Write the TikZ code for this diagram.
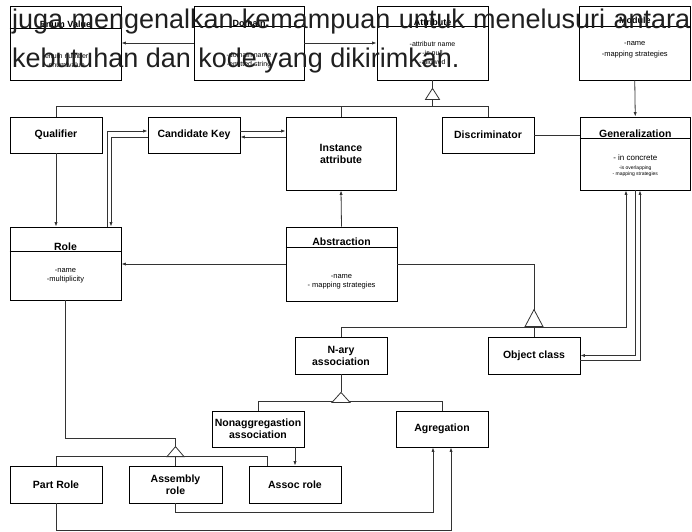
\documentclass[tikz,border=0pt]{standalone}
\usepackage{fontspec}
\setmainfont{Liberation Sans}
\usetikzlibrary{calc,arrows.meta}
\begin{document}
\begin{tikzpicture}[x=1pt,y=-1pt,
  cls/.style={draw=black, line width=0.8pt, fill=white, inner sep=0pt, align=center,
              font=\bfseries\fontsize{10.5}{12}\selectfont},
  ttl/.style={inner sep=0pt, font=\bfseries\fontsize{10.5}{12}\selectfont},
  sttl/.style={inner sep=0pt, font=\bfseries\fontsize{9}{10}\selectfont},
  attrtxt/.style={inner sep=0pt, align=center, font=\fontsize{7}{9}\selectfont},
  tinytxt/.style={inner sep=0pt, align=center, font=\fontsize{5}{6}\selectfont},
  hline/.style={draw=black, line width=0.8pt},
  con/.style={draw=black!80, line width=0.8pt},
  arr/.style={con, -{Latex[length=4.5pt,width=3.2pt]}},
  gentri/.style={draw=black!80, line width=0.8pt, fill=white},
  big/.style={inner sep=0pt, anchor=base west, text=black!88, font=\fontsize{27}{30}\selectfont}
]
\useasboundingbox (0,0) rectangle (692,531);

% ---------- boxes ----------
\node[cls, minimum width=111pt, minimum height=74pt] (enum)   at (65.5,43) {};
\node[cls, minimum width=110pt, minimum height=74pt] (domain) at (249,43) {};
\node[cls, minimum width=111pt, minimum height=74pt] (attr)   at (432.5,43) {};
\node[cls, minimum width=111pt, minimum height=74pt] (module) at (634.75,43) {};

\node[cls, minimum width=92pt, minimum height=36pt] (qual) at (56,135) {Qualifier};
\node[cls, minimum width=92pt, minimum height=36pt] (ck)   at (194,135) {Candidate Key};
\node[cls, minimum width=110pt, minimum height=73pt] (inst) at (341,153.5) {Instance\\attribute};
\node[cls, minimum width=92pt, minimum height=36pt] (disc) at (488,135) {Discriminator};
\node[cls, minimum width=110.5pt, minimum height=73pt] (gen) at (635.25,153.5) {};

\node[cls, minimum width=111pt, minimum height=73pt] (role) at (65.5,263.5) {};
\node[cls, minimum width=111pt, minimum height=74pt] (abs)  at (341.5,264) {};

\node[cls, minimum width=92pt, minimum height=37pt] (nary) at (341,355.5) {N-ary\\association};
\node[cls, minimum width=92pt, minimum height=37pt] (oc)   at (534,355.5) {Object class};

\node[cls, minimum width=92pt, minimum height=36pt] (nonagg) at (258,429) {Nonaggregastion\\association};
\node[cls, minimum width=92pt, minimum height=36pt] (agr)    at (442,429) {Agregation};

\node[cls, minimum width=92pt, minimum height=37pt] (part)  at (56,484.5) {Part Role};
\node[cls, minimum width=93pt, minimum height=37pt] (asm)   at (175.5,484.5) {Assembly\\role};
\node[cls, minimum width=92pt, minimum height=37pt] (assoc) at (295,484.5) {Assoc role};

% ---------- class compartments ----------
\draw[hline] ($(enum.north west)+(0,23)$) -- ($(enum.north east)+(0,23)$);
\node[sttl] (enumT) at (65.5,24) {Enum Value};
\node[attrtxt] (enumA) at (65.5,60) {-enum number\\-enum value};

\draw[hline] ($(domain.north west)+(0,21)$) -- ($(domain.north east)+(0,21)$);
\node[sttl] (domainT) at (249,23) {Domain};
\node[attrtxt] (domainA) at (249,60) {-domain name\\-emitted string};

\draw[hline] ($(attr.north west)+(0,21)$) -- ($(attr.north east)+(0,21)$);
\node[sttl] (attrT) at (432.5,22) {Attribute};
\node[attrtxt] (attrA) at (432.5,53) {-attributr name\\-is null\\-allowed};

\draw[hline] ($(module.north west)+(0,21)$) -- ($(module.north east)+(0,21)$);
\node[sttl] (moduleT) at (634.75,20) {Module};
\node[attrtxt, font=\fontsize{7.5}{11}\selectfont] (moduleA) at (634.75,49.5) {-name\\-mapping strategies};

\draw[hline] ($(gen.north west)+(0,22)$) -- ($(gen.north east)+(0,22)$);
\node[ttl] (genT) at (635.25,134) {Generalization};
\node[attrtxt, font=\fontsize{8}{9}\selectfont] (genA) at (635.25,158) {- in concrete};
\node[tinytxt] (genB) at (635.25,171) {-is overlapping\\- mapping strategies};

\draw[hline] ($(role.north west)+(0,25)$) -- ($(role.north east)+(0,25)$);
\node[ttl] (roleT) at (65.5,247) {Role};
\node[attrtxt, font=\fontsize{7.5}{9}\selectfont] (roleA) at (65.5,275.5) {-name\\-multiplicity};

\draw[hline] ($(abs.north west)+(0,21)$) -- ($(abs.north east)+(0,21)$);
\node[ttl] (absT) at (341.5,242) {Abstraction};
\node[attrtxt, font=\fontsize{7.5}{9}\selectfont] (absA) at (341.5,281.5) {-name\\- mapping strategies};

% ---------- top row connectors ----------
\draw[arr] (domain.west) -- (enum.east);
\draw[arr] (domain.east) -- (attr.west);
\draw[arr] (module.south) -- (gen.north);

% ---------- attribute generalization ----------
\coordinate (t1) at ($(attr.south)+(0,8)$);
\coordinate (t1b) at ($(attr.south)+(0,19)$);
\coordinate (bus1) at ($(attr.south)+(0,27)$);
\draw[con] (attr.south) -- (t1);
\draw[con] (t1b) -- (bus1);
\draw[con] (qual.north) -- ++(0,-10) -| (disc.north);
\draw[con] (inst.north) -- (inst.north |- bus1);
\draw[gentri] (t1) -- ($(t1b)+(7,0)$) -- ($(t1b)+(-7,0)$) -- cycle;

\draw[con] (disc.east) -- (disc.east -| gen.west);

% ---------- qualifier / candidate key / role ----------
\draw[arr] (qual.south) -- (qual.south |- role.north);
\draw[arr] ($(role.north)+(41.5,0)$) |- ($(ck.west)+(0,-4)$);
\draw[arr] ($(ck.west)+(0,2)$) -| ($(role.north)+(45.5,0)$);
\draw[arr] ($(ck.east)+(0,-4)$) -- ($(inst.west)+(0,-22.5)$);
\draw[arr] ($(inst.west)+(0,-16.5)$) -- ($(ck.east)+(0,2)$);

% ---------- abstraction ----------
\draw[arr] (abs.north) -- (inst.south);
\draw[arr] (abs.west) -- (abs.west -| role.east);
\coordinate (t2) at ($(oc.north)+(0,-27)$);
\coordinate (t2b) at ($(oc.north)+(0,-10)$);
\draw[con] (abs.east) -| (t2);
\draw[arr] (nary.north) |- ($(gen.south)+(-9.25,137)$) -- ($(gen.south)+(-9.25,0)$);
\draw[con] (oc.north) -- (t2b);
\draw[gentri] (t2) -- ($(t2b)+(9,0)$) -- ($(t2b)+(-9,0)$) -- cycle;

\draw[arr] (gen.south) |- (oc.east);
\draw[arr] ($(oc.east)+(0,4.5)$) -| ($(gen.south)+(4.75,0)$);

% ---------- n-ary ----------
\coordinate (t3) at ($(nary.south)+(0,18)$);
\coordinate (t3b) at ($(nary.south)+(0,28)$);
\draw[con] (nary.south) -- (t3);
\draw[con] (nonagg.north) -- ++(0,-9) -| (agr.north);
\draw[gentri] (t3) -- ($(t3b)+(9,0)$) -- ($(t3b)+(-9,0)$) -- cycle;
\draw[arr] (assoc.north |- nonagg.south) -- (assoc.north);

% ---------- roles ----------
\coordinate (t4) at ($(asm.north)+(0,-19)$);
\coordinate (t4b) at ($(asm.north)+(0,-9)$);
\draw[con] (role.south) -- ++(0,138) -| (t4);
\draw[con] (part.north) -- ++(0,-9) -| ($(assoc.north)+(-28,0)$);
\draw[con] (asm.north) -- (t4b);
\draw[gentri] (t4) -- ($(t4b)+(8.5,0)$) -- ($(t4b)+(-8.5,0)$) -- cycle;

\draw[arr] (asm.south) -- ++(0,9) -| ($(agr.south)+(-9,0)$);
\draw[arr] (part.south) -- ++(0,27) -| ($(agr.south)+(9,0)$);

% ---------- overlaid text ----------
\node[big] (line1) at (12,28) {\makebox[678pt][s]{juga mengenalkan kemampuan untuk menelusuri antara}};
\node[big] (line2) at (12,67) {kebutuhan dan kode yang dikirimkan.};
\end{tikzpicture}
\end{document}
